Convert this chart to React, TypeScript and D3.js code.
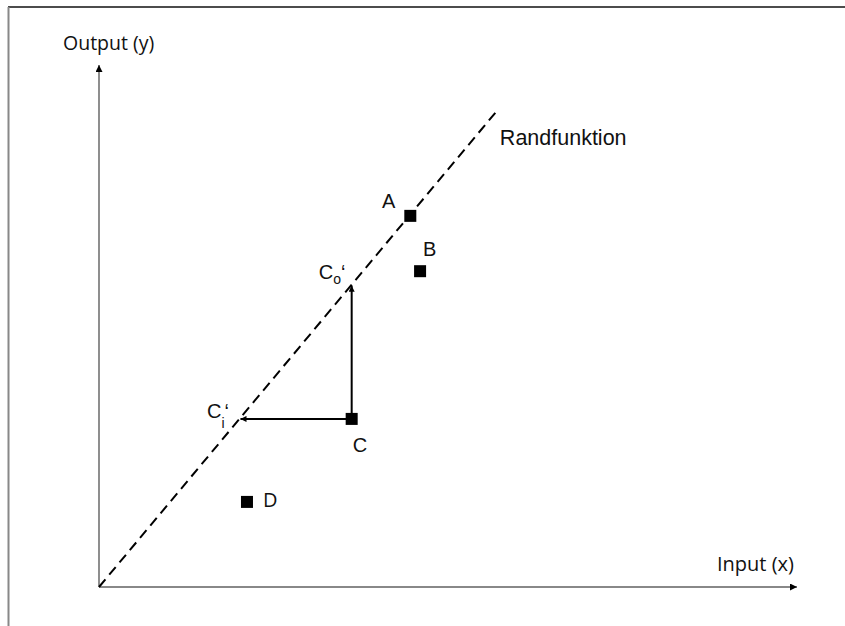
import React from "react";
import * as d3 from "d3";

// Data (abstract input/output units)
const frontierStart: [number, number] = [0, 0];
const frontierEnd: [number, number] = [57.0, 91.2];
const pointNames = ["A", "B", "C", "D"];
const pointX = [44.6, 46.0, 36.2, 21.2];
const pointY = [71.1, 60.5, 32.2, 16.3];
const axisTitles = ["Input (x)", "Output (y)"];
const frontierLabel = "Randfunktion";

const W = 845;
const H = 626;

export default function App() {
  const x = d3.scaleLinear().domain([0, 100]).range([99, 797]);
  const y = d3.scaleLinear().domain([0, 100]).range([587, 65]);
  const slope = (frontierEnd[1] - frontierStart[1]) / (frontierEnd[0] - frontierStart[0]);

  const line = d3.line<[number, number]>().x((d) => x(d[0])).y((d) => y(d[1]));

  const pts = pointNames.map((n, i) => ({ name: n, x: pointX[i], y: pointY[i] }));
  const C = pts[2];
  const coPt: [number, number] = [C.x, C.x * slope];
  const ciPt: [number, number] = [C.y / slope, C.y];

  const labelFont = "Liberation Sans, Arial, Helvetica, sans-serif";
  const axisFont = "Open Sans, sans-serif";
  const sq = 12;

  const labelOffsets: Record<string, { dx: number; dy: number; anchor: string }> = {
    A: { dx: -15, dy: -8, anchor: "end" },
    B: { dx: 3, dy: -15, anchor: "start" },
    C: { dx: 1, dy: 33, anchor: "start" },
    D: { dx: 16, dy: 5, anchor: "start" },
  };

  return (
    <svg
      width={W}
      height={H}
      style={{ position: "absolute", left: 0, top: 0, background: "#fff" }}
    >
      <defs>
        <marker id="axArrow" viewBox="0 0 10 10" refX="10" refY="5" markerWidth="9" markerHeight="7" markerUnits="userSpaceOnUse" orient="auto">
          <path d="M0,0 L10,5 L0,10 z" fill="#000" />
        </marker>
        <marker id="smArrow" viewBox="0 0 10 10" refX="10" refY="5" markerWidth="8" markerHeight="6" markerUnits="userSpaceOnUse" orient="auto">
          <path d="M0,0 L10,5 L0,10 z" fill="#000" />
        </marker>
      </defs>

      {/* frame */}
      <line x1={8} y1={7} x2={W} y2={7} stroke="#111" strokeWidth={1.5} />
      <line x1={8.5} y1={7} x2={8.5} y2={H} stroke="#888" strokeWidth={2} />

      {/* axes */}
      <line x1={x(0)} y1={y(0)} x2={x(100)} y2={y(0)} stroke="#888" strokeWidth={2} markerEnd="url(#axArrow)" />
      <line x1={x(0)} y1={y(0)} x2={x(0)} y2={y(100)} stroke="#444" strokeWidth={1.2} markerEnd="url(#axArrow)" />

      <text x={717} y={571} fontFamily={axisFont} fontSize={20} fill="#111">{axisTitles[0]}</text>
      <text x={63} y={50} fontFamily={axisFont} fontSize={19.5} fill="#111">{axisTitles[1]}</text>

      {/* frontier */}
      <path d={line([frontierStart, frontierEnd]) || ""} stroke="#000" strokeWidth={2} strokeDasharray="10,6" fill="none" />
      <text x={x(frontierEnd[0]) + 3} y={y(frontierEnd[1]) + 34} fontFamily={labelFont} fontSize={21.5} fill="#111">{frontierLabel}</text>

      {/* projection arrows from C */}
      <line x1={x(C.x)} y1={y(C.y)} x2={x(coPt[0])} y2={y(coPt[1]) + 1} stroke="#000" strokeWidth={2} markerEnd="url(#smArrow)" />
      <line x1={x(C.x)} y1={y(C.y)} x2={x(ciPt[0]) + 1} y2={y(ciPt[1])} stroke="#000" strokeWidth={2} markerEnd="url(#smArrow)" />

      {/* projection labels */}
      <text x={x(coPt[0]) - 33} y={y(coPt[1]) - 6} fontFamily={labelFont} fontSize={20} fill="#111">
        C<tspan fontSize={14} dy={5}>o</tspan><tspan dy={-5}>‘</tspan>
      </text>
      <text x={x(ciPt[0]) - 32.5} y={y(ciPt[1]) - 1} fontFamily={labelFont} fontSize={20} fill="#111">
        C<tspan fontSize={14} dy={10}>i</tspan><tspan dy={-10}>‘</tspan>
      </text>

      {/* points */}
      {pts.map((p) => (
        <g key={p.name}>
          <rect x={x(p.x) - sq / 2} y={y(p.y) - sq / 2} width={sq} height={sq} fill="#000" />
          <text
            x={x(p.x) + labelOffsets[p.name].dx}
            y={y(p.y) + labelOffsets[p.name].dy}
            textAnchor={labelOffsets[p.name].anchor as any}
            fontFamily={p.name === "D" ? axisFont : labelFont}
            fontSize={20}
            fill="#111"
          >
            {p.name}
          </text>
        </g>
      ))}
    </svg>
  );
}
